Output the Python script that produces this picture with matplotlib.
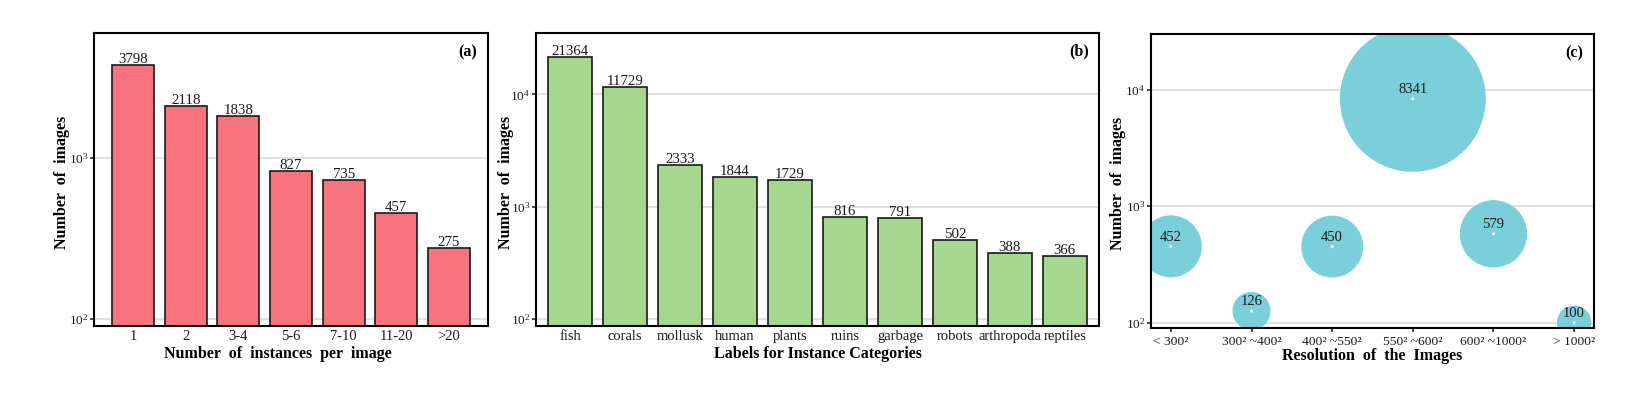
import numpy as np
import matplotlib
matplotlib.use("Agg")
import matplotlib.pyplot as plt

plt.rcParams['font.family'] = ['Liberation Serif', 'DejaVu Serif']
plt.rcParams['mathtext.fontset'] = 'custom'
plt.rcParams['mathtext.rm'] = 'Liberation Serif'
plt.rcParams['mathtext.it'] = 'Liberation Serif:italic'
plt.rcParams['mathtext.bf'] = 'Liberation Serif:bold'

# (a) instances per image
inst_labels = ['1', '2', '3-4', '5-6', '7-10', '11-20', '>20']
inst_counts = [3798, 2118, 1838, 827, 735, 457, 275]

# (b) instance categories
cat_labels = ['fish', 'corals', 'mollusk', 'human', 'plants', 'ruins',
              'garbage', 'robots', 'arthropoda', 'reptiles']
cat_counts = [21364, 11729, 2333, 1844, 1729, 816, 791, 502, 388, 366]

# (c) image resolution
res_labels = ['< 300²', '300² ~400²', '400² ~550²', '550² ~600²',
              '600² ~1000²', '> 1000²']
res_counts = [452, 126, 450, 8341, 579, 100]

DPI = 100
PX = 72.0 / DPI
fig = plt.figure(figsize=(16.5, 3.97), dpi=DPI)

RED = '#F9737F'
GREEN = '#A6D78E'
CYAN = '#7BCFDB'
GRID = '#D9D9D9'
INK = '#1a1a1a'


def style_axes(ax):
    for s in ax.spines.values():
        s.set_linewidth(1.5)
        s.set_color('black')
    ax.set_yscale('log')
    ax.yaxis.set_minor_locator(matplotlib.ticker.NullLocator())
    ax.yaxis.set_major_formatter(matplotlib.ticker.FuncFormatter(
        lambda v, p: r'$10^{%d}$' % round(np.log10(v))))
    ax.grid(axis='y', color=GRID, linewidth=1.1)
    ax.set_axisbelow(True)
    ax.tick_params(axis='y', length=3, width=1.1, labelsize=9.5,
                   colors=INK, pad=1)
    ax.tick_params(axis='x', labelsize=10.5, colors=INK, pad=3)


def panel_tag(ax, txt):
    ax.annotate(txt, xy=(1, 1), xycoords='axes fraction',
                xytext=(-20 * PX, -19 * PX), textcoords='offset points',
                ha='center', va='center', fontsize=11.5, fontweight='bold')


def bars(ax, labels, counts, color):
    x = np.arange(len(labels))
    ax.bar(x, counts, width=0.8, color=color, edgecolor=INK,
           linewidth=1.2, zorder=2, bottom=1)
    for xi, c in zip(x, counts):
        ax.annotate(str(c), xy=(xi, c), xytext=(0, 1.5), textcoords='offset points',
                    ha='center', va='baseline', fontsize=10.7, color=INK)
    ax.set_xticks(x)
    ax.set_xticklabels(labels)
    ax.tick_params(axis='x', length=0)


# (a)
ax1 = fig.add_axes([94 / 1650, 1 - 326 / 397, 394 / 1650, 292.7 / 397])
style_axes(ax1)
bars(ax1, inst_labels, inst_counts, RED)
ax1.set_xlim(-0.74, 6.74)
ax1.set_ylim(10 ** 1.957, 10 ** 3.776)
ax1.set_ylabel('Number  of  images', fontsize=11.5, fontweight='bold',
               va='center')
ax1.yaxis.set_label_coords(-32 / 394, 0.49)
ax1.set_xlabel('Number  of  instances  per  image', fontsize=11.5,
               fontweight='bold', va='center')
ax1.xaxis.set_label_coords(0.467, -28 / 292.7)
panel_tag(ax1, '(a)')

# (b)
ax2 = fig.add_axes([535.7 / 1650, 1 - 326 / 397, 563.6 / 1650, 293.3 / 397])
style_axes(ax2)
bars(ax2, cat_labels, cat_counts, GREEN)
ax2.set_xlim(-0.63, 9.63)
ax2.set_ylim(10 ** 1.938, 10 ** 4.549)
ax2.set_ylabel('Number  of  images', fontsize=11.5, fontweight='bold',
               va='center')
ax2.yaxis.set_label_coords(-30 / 563.6, 0.49)
ax2.set_xlabel('Labels for Instance Categories', fontsize=11.5,
               fontweight='bold', va='center')
ax2.xaxis.set_label_coords(0.5, -28.3 / 293.3)
panel_tag(ax2, '(b)')

# (c)
ax3 = fig.add_axes([1150.7 / 1650, 1 - 327.7 / 397, 443.6 / 1650, 293.7 / 397])
style_axes(ax3)
xc = np.arange(len(res_labels))
vals = np.array(res_counts, dtype=float)
rad_px = 15.6 * vals ** 0.2 - 22
ax3.scatter(xc, vals, s=(2 * rad_px * PX) ** 2, color=CYAN,
            edgecolors='none', zorder=2)
ax3.scatter(xc, vals, s=5, color='white', edgecolors='none', zorder=3)
for xi, v in zip(xc, res_counts):
    ax3.annotate(str(v), xy=(xi, v), xytext=(0, 9 * PX), textcoords='offset points',
                 ha='center', va='center', fontsize=10.5, color=INK, zorder=4)
ax3.set_xticks(xc)
ax3.set_xticklabels(res_labels)
ax3.tick_params(axis='x', length=3, width=1.1, labelsize=9.7)
ax3.set_xlim(-0.25, 5.25)
ax3.set_ylim(10 ** 1.957, 10 ** 4.478)
ax3.set_ylabel('Number  of  images', fontsize=11.5, fontweight='bold',
               va='center')
ax3.yaxis.set_label_coords(-33 / 443.6, 0.49)
ax3.set_xlabel('Resolution  of  the  Images', fontsize=11.5,
               fontweight='bold', va='center')
ax3.xaxis.set_label_coords(0.5, -28 / 293.7)
panel_tag(ax3, '(c)')

fig.savefig('out.png', dpi=DPI)
